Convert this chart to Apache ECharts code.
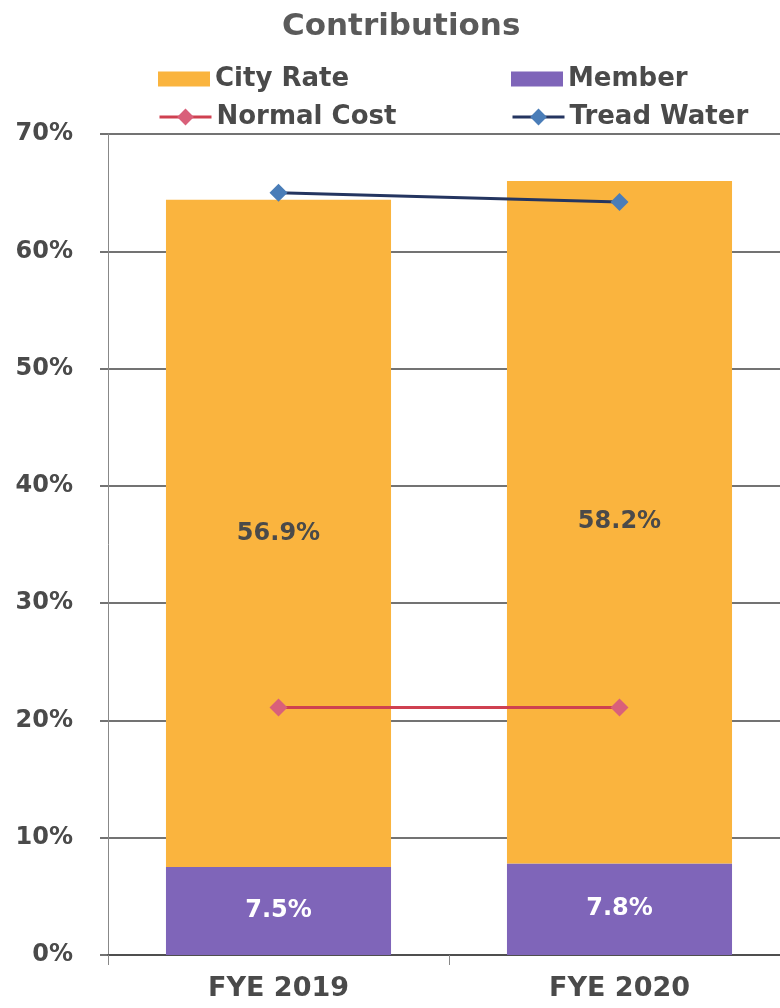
<!DOCTYPE html>
<html>
<head>
<meta charset="utf-8">
<script src="https://cdn.jsdelivr.net/npm/echarts@6/dist/echarts.min.js"></script>
<style>
  html, body { margin: 0; padding: 0; background: #fff; }
  #chart { width: 780px; height: 1008px; }
</style>
</head>
<body>
<div id="chart"></div>
<script>
// ===== data =====
const categories = ['FYE 2019', 'FYE 2020'];
const memberRate = [7.5, 7.8];
const cityRate = [56.9, 58.2];
const normalCost = [21.1, 21.1];
const treadWater = [65.0, 64.2];

const chart = echarts.init(document.getElementById('chart'));
const font = 'DejaVu Sans, Arial, sans-serif';
const legendText = { fontSize: 26, fontWeight: 'bold', color: '#4a4a4a', fontFamily: font };

// one legend per item so the two columns line up
function legendAt(name, left, top, h, icon) {
  const lg = {
    data: [name],
    left: left, top: top,
    padding: 0,
    itemWidth: 52, itemHeight: h,
    itemGap: 5,
    lineStyle: { width: 3 },
    textStyle: legendText
  };
  if (icon) lg.icon = icon;
  return lg;
}

const option = {
  animation: false,
  title: {
    text: 'Contributions',
    left: 277,
    top: 6,
    textStyle: { fontSize: 31, fontWeight: 'bold', color: '#5a5a5a', fontFamily: font }
  },
  legend: [
    legendAt('City Rate', 158, 66, 15, 'rect'),
    legendAt('Member', 511, 66, 15, 'rect'),
    legendAt('Normal Cost', 158, 104, 21),
    legendAt('Tread Water', 511, 104, 21)
  ],
  grid: { left: 108, right: -10, top: 134, bottom: 53, outerBoundsMode: 'none' },
  xAxis: {
    type: 'category',
    data: categories,
    axisLine: { lineStyle: { color: '#444', width: 1.5 } },
    axisTick: { show: true, length: 10, lineStyle: { color: '#888' } },
    axisLabel: { fontSize: 27, fontWeight: 'bold', color: '#4a4a4a', fontFamily: font, margin: 20 }
  },
  yAxis: {
    type: 'value',
    min: 0, max: 70, interval: 10,
    axisLine: { show: true, lineStyle: { color: '#888', width: 1 } },
    axisTick: { show: true, length: 8, lineStyle: { color: '#444', width: 1.5 } },
    axisLabel: { formatter: '{value}%', fontSize: 24, fontWeight: 'bold', color: '#4a4a4a', fontFamily: font, margin: 35 },
    splitLine: { lineStyle: { color: '#444', width: 1.5 } }
  },
  series: [
    {
      name: 'Member',
      type: 'bar',
      stack: 'total',
      barWidth: '66%',
      itemStyle: { color: '#7f65b9' },
      label: {
        show: true, position: 'inside',
        formatter: (p) => p.value.toFixed(1) + '%',
        fontSize: 24, fontWeight: 'bold', color: '#ffffff', fontFamily: font
      },
      data: memberRate
    },
    {
      name: 'City Rate',
      type: 'bar',
      stack: 'total',
      barWidth: '66%',
      itemStyle: { color: '#fab43e' },
      label: {
        show: true, position: 'inside',
        formatter: (p) => p.value.toFixed(1) + '%',
        fontSize: 24, fontWeight: 'bold', color: '#4a4a4a', fontFamily: font
      },
      data: cityRate
    },
    {
      name: 'Normal Cost',
      type: 'line',
      symbol: 'diamond',
      symbolSize: 18,
      lineStyle: { color: '#cf4050', width: 3 },
      itemStyle: { color: '#d9607a' },
      data: normalCost
    },
    {
      name: 'Tread Water',
      type: 'line',
      symbol: 'diamond',
      symbolSize: 18,
      lineStyle: { color: '#243560', width: 3 },
      itemStyle: { color: '#4a7db8' },
      data: treadWater
    }
  ]
};

chart.setOption(option);
</script>
</body>
</html>
